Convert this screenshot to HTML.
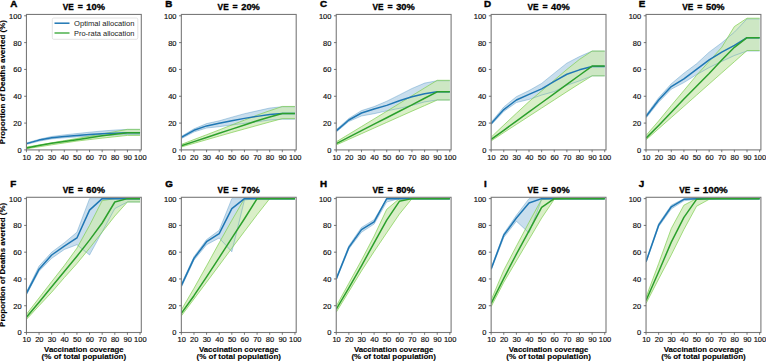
<!DOCTYPE html>
<html><head><meta charset="utf-8"><style>
html,body{margin:0;padding:0;background:#fff;}
svg{display:block;font-family:"Liberation Sans", sans-serif;}
.tk{font-size:7.5px;fill:#111;stroke:#111;stroke-width:0.17px;}
.tt{font-size:8.3px;font-weight:bold;fill:#000;stroke:#000;stroke-width:0.3px;}
.lt{font-size:9.8px;font-weight:bold;fill:#000;stroke:#000;stroke-width:0.45px;}
.lb{font-size:7.6px;font-weight:bold;fill:#000;stroke:#000;stroke-width:0.12px;}
.lg{font-size:7px;fill:#1a1a1a;}
</style></head><body>
<svg width="766" height="361" viewBox="0 0 766 361">
<clipPath id="cA"><rect x="26.45" y="14.45" width="114.85" height="135.45"/></clipPath>
<g clip-path="url(#cA)">
<polygon points="26.45,142.93 39.07,139.31 51.69,136.49 64.31,134.88 76.93,133.54 89.55,132.20 102.18,130.99 114.80,130.05 127.42,129.38 140.04,129.38 140.04,134.48 127.42,134.48 114.80,135.01 102.18,135.68 89.55,136.22 76.93,136.89 64.31,137.83 51.69,138.90 39.07,141.18 26.45,144.40" fill="#1f77b4" fill-opacity="0.24"/>
<polygon points="26.45,147.08 39.07,144.94 51.69,142.79 64.31,140.65 76.93,138.50 89.55,136.22 102.18,133.94 114.80,131.66 127.42,129.38 140.04,129.38 140.04,135.42 127.42,135.42 114.80,136.76 102.18,138.10 89.55,139.57 76.93,141.05 64.31,142.93 51.69,144.80 39.07,146.82 26.45,148.69" fill="rgb(205,233,182)" fill-opacity="0.75"/>
<polyline points="26.45,142.93 39.07,139.31 51.69,136.49 64.31,134.88 76.93,133.54 89.55,132.20 102.18,130.99 114.80,130.05 127.42,129.38 140.04,129.38" fill="none" stroke="#1f77b4" stroke-opacity="0.35" stroke-width="0.9"/>
<polyline points="26.45,144.40 39.07,141.18 51.69,138.90 64.31,137.83 76.93,136.89 89.55,136.22 102.18,135.68 114.80,135.01 127.42,134.48 140.04,134.48" fill="none" stroke="#1f77b4" stroke-opacity="0.35" stroke-width="0.9"/>
<polyline points="26.45,147.08 39.07,144.94 51.69,142.79 64.31,140.65 76.93,138.50 89.55,136.22 102.18,133.94 114.80,131.66 127.42,129.38 140.04,129.38" fill="none" stroke="#7fcf50" stroke-opacity="0.7" stroke-width="1"/>
<polyline points="26.45,148.69 39.07,146.82 51.69,144.80 64.31,142.93 76.93,141.05 89.55,139.57 102.18,138.10 114.80,136.76 127.42,135.42 140.04,135.42" fill="none" stroke="#7fcf50" stroke-opacity="0.7" stroke-width="1"/>
<polyline points="26.45,143.60 39.07,140.11 51.69,137.83 64.31,136.49 76.93,135.55 89.55,134.61 102.18,133.81 114.80,133.27 127.42,132.87 140.04,132.87" fill="none" stroke="#1f77b4" stroke-width="1.5" stroke-linejoin="round"/>
<polyline points="26.45,147.89 39.07,145.47 51.69,143.19 64.31,141.45 76.93,139.71 89.55,137.83 102.18,135.82 114.80,134.21 127.42,132.87 140.04,132.87" fill="none" stroke="#2ca02c" stroke-width="1.5" stroke-linejoin="round"/>
</g>
<rect x="26.45" y="14.45" width="114.85" height="135.45" fill="none" stroke="#7a7a7a" stroke-width="1.1"/>
<line x1="26.45" y1="149.90" x2="26.45" y2="152.20" stroke="#555" stroke-width="0.8"/>
<text class="tk" x="26.75" y="159.70" text-anchor="middle">10</text>
<line x1="39.07" y1="149.90" x2="39.07" y2="152.20" stroke="#555" stroke-width="0.8"/>
<text class="tk" x="39.37" y="159.70" text-anchor="middle">20</text>
<line x1="51.69" y1="149.90" x2="51.69" y2="152.20" stroke="#555" stroke-width="0.8"/>
<text class="tk" x="51.99" y="159.70" text-anchor="middle">30</text>
<line x1="64.31" y1="149.90" x2="64.31" y2="152.20" stroke="#555" stroke-width="0.8"/>
<text class="tk" x="64.61" y="159.70" text-anchor="middle">40</text>
<line x1="76.93" y1="149.90" x2="76.93" y2="152.20" stroke="#555" stroke-width="0.8"/>
<text class="tk" x="77.23" y="159.70" text-anchor="middle">50</text>
<line x1="89.55" y1="149.90" x2="89.55" y2="152.20" stroke="#555" stroke-width="0.8"/>
<text class="tk" x="89.85" y="159.70" text-anchor="middle">60</text>
<line x1="102.18" y1="149.90" x2="102.18" y2="152.20" stroke="#555" stroke-width="0.8"/>
<text class="tk" x="102.48" y="159.70" text-anchor="middle">70</text>
<line x1="114.80" y1="149.90" x2="114.80" y2="152.20" stroke="#555" stroke-width="0.8"/>
<text class="tk" x="115.10" y="159.70" text-anchor="middle">80</text>
<line x1="127.42" y1="149.90" x2="127.42" y2="152.20" stroke="#555" stroke-width="0.8"/>
<text class="tk" x="127.72" y="159.70" text-anchor="middle">90</text>
<line x1="140.04" y1="149.90" x2="140.04" y2="152.20" stroke="#555" stroke-width="0.8"/>
<text class="tk" x="140.34" y="159.70" text-anchor="middle">100</text>
<line x1="24.15" y1="149.90" x2="26.45" y2="149.90" stroke="#555" stroke-width="0.8"/>
<text class="tk" x="21.60" y="152.85" text-anchor="end">0</text>
<line x1="24.15" y1="123.08" x2="26.45" y2="123.08" stroke="#555" stroke-width="0.8"/>
<text class="tk" x="21.60" y="126.03" text-anchor="end">20</text>
<line x1="24.15" y1="96.26" x2="26.45" y2="96.26" stroke="#555" stroke-width="0.8"/>
<text class="tk" x="21.60" y="99.21" text-anchor="end">40</text>
<line x1="24.15" y1="69.43" x2="26.45" y2="69.43" stroke="#555" stroke-width="0.8"/>
<text class="tk" x="21.60" y="72.38" text-anchor="end">60</text>
<line x1="24.15" y1="42.61" x2="26.45" y2="42.61" stroke="#555" stroke-width="0.8"/>
<text class="tk" x="21.60" y="45.56" text-anchor="end">80</text>
<line x1="24.15" y1="15.79" x2="26.45" y2="15.79" stroke="#555" stroke-width="0.8"/>
<text class="tk" x="21.60" y="18.74" text-anchor="end">100</text>
<text class="tt" x="62.73" y="10.15" textLength="11.05" lengthAdjust="spacingAndGlyphs">VE</text>
<text class="tt" x="80.28" y="10.15" text-anchor="middle" textLength="5.1" lengthAdjust="spacingAndGlyphs">=</text>
<text class="tt" x="86.38" y="10.15" textLength="18.60" lengthAdjust="spacingAndGlyphs">10%</text>
<text class="lt" x="10.25" y="6.90">A</text>
<clipPath id="cB"><rect x="181.35" y="14.45" width="114.85" height="135.45"/></clipPath>
<g clip-path="url(#cB)">
<polygon points="181.35,136.36 193.97,128.84 206.59,123.61 219.21,120.80 231.83,117.18 244.45,113.69 257.08,110.87 269.70,108.06 282.32,106.72 294.94,106.72 294.94,119.19 282.32,119.19 269.70,119.99 257.08,121.74 244.45,123.35 231.83,124.96 219.21,126.70 206.59,128.04 193.97,131.93 181.35,138.63" fill="#1f77b4" fill-opacity="0.24"/>
<polygon points="181.35,144.40 193.97,139.57 206.59,134.75 219.21,129.92 231.83,124.96 244.45,120.13 257.08,115.17 269.70,110.74 282.32,106.45 294.94,106.45 294.94,118.65 282.32,118.65 269.70,122.01 257.08,125.49 244.45,128.98 231.83,132.47 219.21,136.09 206.59,139.71 193.97,143.33 181.35,146.95" fill="rgb(205,233,182)" fill-opacity="0.75"/>
<polyline points="181.35,136.36 193.97,128.84 206.59,123.61 219.21,120.80 231.83,117.18 244.45,113.69 257.08,110.87 269.70,108.06 282.32,106.72 294.94,106.72" fill="none" stroke="#1f77b4" stroke-opacity="0.35" stroke-width="0.9"/>
<polyline points="181.35,138.63 193.97,131.93 206.59,128.04 219.21,126.70 231.83,124.96 244.45,123.35 257.08,121.74 269.70,119.99 282.32,119.19 294.94,119.19" fill="none" stroke="#1f77b4" stroke-opacity="0.35" stroke-width="0.9"/>
<polyline points="181.35,144.40 193.97,139.57 206.59,134.75 219.21,129.92 231.83,124.96 244.45,120.13 257.08,115.17 269.70,110.74 282.32,106.45 294.94,106.45" fill="none" stroke="#7fcf50" stroke-opacity="0.7" stroke-width="1"/>
<polyline points="181.35,146.95 193.97,143.33 206.59,139.71 219.21,136.09 231.83,132.47 244.45,128.98 257.08,125.49 269.70,122.01 282.32,118.65 294.94,118.65" fill="none" stroke="#7fcf50" stroke-opacity="0.7" stroke-width="1"/>
<polyline points="181.35,137.43 193.97,130.32 206.59,125.89 219.21,123.35 231.83,120.80 244.45,118.38 257.08,116.37 269.70,114.50 282.32,113.42 294.94,113.42" fill="none" stroke="#1f77b4" stroke-width="1.5" stroke-linejoin="round"/>
<polyline points="181.35,145.74 193.97,141.59 206.59,137.43 219.21,133.27 231.83,129.11 244.45,124.96 257.08,120.80 269.70,117.04 282.32,113.42 294.94,113.42" fill="none" stroke="#2ca02c" stroke-width="1.5" stroke-linejoin="round"/>
</g>
<rect x="181.35" y="14.45" width="114.85" height="135.45" fill="none" stroke="#7a7a7a" stroke-width="1.1"/>
<line x1="181.35" y1="149.90" x2="181.35" y2="152.20" stroke="#555" stroke-width="0.8"/>
<text class="tk" x="181.65" y="159.70" text-anchor="middle">10</text>
<line x1="193.97" y1="149.90" x2="193.97" y2="152.20" stroke="#555" stroke-width="0.8"/>
<text class="tk" x="194.27" y="159.70" text-anchor="middle">20</text>
<line x1="206.59" y1="149.90" x2="206.59" y2="152.20" stroke="#555" stroke-width="0.8"/>
<text class="tk" x="206.89" y="159.70" text-anchor="middle">30</text>
<line x1="219.21" y1="149.90" x2="219.21" y2="152.20" stroke="#555" stroke-width="0.8"/>
<text class="tk" x="219.51" y="159.70" text-anchor="middle">40</text>
<line x1="231.83" y1="149.90" x2="231.83" y2="152.20" stroke="#555" stroke-width="0.8"/>
<text class="tk" x="232.13" y="159.70" text-anchor="middle">50</text>
<line x1="244.45" y1="149.90" x2="244.45" y2="152.20" stroke="#555" stroke-width="0.8"/>
<text class="tk" x="244.75" y="159.70" text-anchor="middle">60</text>
<line x1="257.08" y1="149.90" x2="257.08" y2="152.20" stroke="#555" stroke-width="0.8"/>
<text class="tk" x="257.38" y="159.70" text-anchor="middle">70</text>
<line x1="269.70" y1="149.90" x2="269.70" y2="152.20" stroke="#555" stroke-width="0.8"/>
<text class="tk" x="270.00" y="159.70" text-anchor="middle">80</text>
<line x1="282.32" y1="149.90" x2="282.32" y2="152.20" stroke="#555" stroke-width="0.8"/>
<text class="tk" x="282.62" y="159.70" text-anchor="middle">90</text>
<line x1="294.94" y1="149.90" x2="294.94" y2="152.20" stroke="#555" stroke-width="0.8"/>
<text class="tk" x="295.24" y="159.70" text-anchor="middle">100</text>
<line x1="179.05" y1="149.90" x2="181.35" y2="149.90" stroke="#555" stroke-width="0.8"/>
<text class="tk" x="176.50" y="152.85" text-anchor="end">0</text>
<line x1="179.05" y1="123.08" x2="181.35" y2="123.08" stroke="#555" stroke-width="0.8"/>
<text class="tk" x="176.50" y="126.03" text-anchor="end">20</text>
<line x1="179.05" y1="96.26" x2="181.35" y2="96.26" stroke="#555" stroke-width="0.8"/>
<text class="tk" x="176.50" y="99.21" text-anchor="end">40</text>
<line x1="179.05" y1="69.43" x2="181.35" y2="69.43" stroke="#555" stroke-width="0.8"/>
<text class="tk" x="176.50" y="72.38" text-anchor="end">60</text>
<line x1="179.05" y1="42.61" x2="181.35" y2="42.61" stroke="#555" stroke-width="0.8"/>
<text class="tk" x="176.50" y="45.56" text-anchor="end">80</text>
<line x1="179.05" y1="15.79" x2="181.35" y2="15.79" stroke="#555" stroke-width="0.8"/>
<text class="tk" x="176.50" y="18.74" text-anchor="end">100</text>
<text class="tt" x="217.62" y="10.15" textLength="11.05" lengthAdjust="spacingAndGlyphs">VE</text>
<text class="tt" x="235.17" y="10.15" text-anchor="middle" textLength="5.1" lengthAdjust="spacingAndGlyphs">=</text>
<text class="tt" x="241.27" y="10.15" textLength="18.60" lengthAdjust="spacingAndGlyphs">20%</text>
<text class="lt" x="165.15" y="6.90">B</text>
<clipPath id="cC"><rect x="336.25" y="14.45" width="114.85" height="135.45"/></clipPath>
<g clip-path="url(#cC)">
<polygon points="336.25,129.65 348.87,118.38 361.49,110.61 374.11,106.58 386.73,101.22 399.35,94.92 411.98,88.48 424.60,83.11 437.22,80.70 449.84,80.70 449.84,100.01 437.22,100.01 424.60,101.89 411.98,105.38 399.35,108.33 386.73,110.87 374.11,113.69 361.49,115.97 348.87,121.47 336.25,132.06" fill="#1f77b4" fill-opacity="0.24"/>
<polygon points="336.25,141.85 348.87,134.21 361.49,126.57 374.11,118.92 386.73,111.28 399.35,103.50 411.98,95.72 424.60,87.94 437.22,80.30 449.84,80.30 449.84,100.01 437.22,100.01 424.60,105.64 411.98,111.14 399.35,116.78 386.73,122.41 374.11,128.04 361.49,133.67 348.87,139.31 336.25,144.94" fill="rgb(205,233,182)" fill-opacity="0.75"/>
<polyline points="336.25,129.65 348.87,118.38 361.49,110.61 374.11,106.58 386.73,101.22 399.35,94.92 411.98,88.48 424.60,83.11 437.22,80.70 449.84,80.70" fill="none" stroke="#1f77b4" stroke-opacity="0.35" stroke-width="0.9"/>
<polyline points="336.25,132.06 348.87,121.47 361.49,115.97 374.11,113.69 386.73,110.87 399.35,108.33 411.98,105.38 424.60,101.89 437.22,100.01 449.84,100.01" fill="none" stroke="#1f77b4" stroke-opacity="0.35" stroke-width="0.9"/>
<polyline points="336.25,141.85 348.87,134.21 361.49,126.57 374.11,118.92 386.73,111.28 399.35,103.50 411.98,95.72 424.60,87.94 437.22,80.30 449.84,80.30" fill="none" stroke="#7fcf50" stroke-opacity="0.7" stroke-width="1"/>
<polyline points="336.25,144.94 348.87,139.31 361.49,133.67 374.11,128.04 386.73,122.41 399.35,116.78 411.98,111.14 424.60,105.64 437.22,100.01 449.84,100.01" fill="none" stroke="#7fcf50" stroke-opacity="0.7" stroke-width="1"/>
<polyline points="336.25,130.86 348.87,119.99 361.49,113.02 374.11,109.00 386.73,105.38 399.35,100.68 411.98,96.79 424.60,93.71 437.22,91.83 449.84,91.83" fill="none" stroke="#1f77b4" stroke-width="1.5" stroke-linejoin="round"/>
<polyline points="336.25,143.60 348.87,137.16 361.49,130.59 374.11,124.15 386.73,117.71 399.35,111.28 411.98,104.84 424.60,98.27 437.22,91.83 449.84,91.83" fill="none" stroke="#2ca02c" stroke-width="1.5" stroke-linejoin="round"/>
</g>
<rect x="336.25" y="14.45" width="114.85" height="135.45" fill="none" stroke="#7a7a7a" stroke-width="1.1"/>
<line x1="336.25" y1="149.90" x2="336.25" y2="152.20" stroke="#555" stroke-width="0.8"/>
<text class="tk" x="336.55" y="159.70" text-anchor="middle">10</text>
<line x1="348.87" y1="149.90" x2="348.87" y2="152.20" stroke="#555" stroke-width="0.8"/>
<text class="tk" x="349.17" y="159.70" text-anchor="middle">20</text>
<line x1="361.49" y1="149.90" x2="361.49" y2="152.20" stroke="#555" stroke-width="0.8"/>
<text class="tk" x="361.79" y="159.70" text-anchor="middle">30</text>
<line x1="374.11" y1="149.90" x2="374.11" y2="152.20" stroke="#555" stroke-width="0.8"/>
<text class="tk" x="374.41" y="159.70" text-anchor="middle">40</text>
<line x1="386.73" y1="149.90" x2="386.73" y2="152.20" stroke="#555" stroke-width="0.8"/>
<text class="tk" x="387.03" y="159.70" text-anchor="middle">50</text>
<line x1="399.35" y1="149.90" x2="399.35" y2="152.20" stroke="#555" stroke-width="0.8"/>
<text class="tk" x="399.65" y="159.70" text-anchor="middle">60</text>
<line x1="411.98" y1="149.90" x2="411.98" y2="152.20" stroke="#555" stroke-width="0.8"/>
<text class="tk" x="412.28" y="159.70" text-anchor="middle">70</text>
<line x1="424.60" y1="149.90" x2="424.60" y2="152.20" stroke="#555" stroke-width="0.8"/>
<text class="tk" x="424.90" y="159.70" text-anchor="middle">80</text>
<line x1="437.22" y1="149.90" x2="437.22" y2="152.20" stroke="#555" stroke-width="0.8"/>
<text class="tk" x="437.52" y="159.70" text-anchor="middle">90</text>
<line x1="449.84" y1="149.90" x2="449.84" y2="152.20" stroke="#555" stroke-width="0.8"/>
<text class="tk" x="450.14" y="159.70" text-anchor="middle">100</text>
<line x1="333.95" y1="149.90" x2="336.25" y2="149.90" stroke="#555" stroke-width="0.8"/>
<text class="tk" x="331.40" y="152.85" text-anchor="end">0</text>
<line x1="333.95" y1="123.08" x2="336.25" y2="123.08" stroke="#555" stroke-width="0.8"/>
<text class="tk" x="331.40" y="126.03" text-anchor="end">20</text>
<line x1="333.95" y1="96.26" x2="336.25" y2="96.26" stroke="#555" stroke-width="0.8"/>
<text class="tk" x="331.40" y="99.21" text-anchor="end">40</text>
<line x1="333.95" y1="69.43" x2="336.25" y2="69.43" stroke="#555" stroke-width="0.8"/>
<text class="tk" x="331.40" y="72.38" text-anchor="end">60</text>
<line x1="333.95" y1="42.61" x2="336.25" y2="42.61" stroke="#555" stroke-width="0.8"/>
<text class="tk" x="331.40" y="45.56" text-anchor="end">80</text>
<line x1="333.95" y1="15.79" x2="336.25" y2="15.79" stroke="#555" stroke-width="0.8"/>
<text class="tk" x="331.40" y="18.74" text-anchor="end">100</text>
<text class="tt" x="372.52" y="10.15" textLength="11.05" lengthAdjust="spacingAndGlyphs">VE</text>
<text class="tt" x="390.07" y="10.15" text-anchor="middle" textLength="5.1" lengthAdjust="spacingAndGlyphs">=</text>
<text class="tt" x="396.18" y="10.15" textLength="18.60" lengthAdjust="spacingAndGlyphs">30%</text>
<text class="lt" x="320.05" y="6.90">C</text>
<clipPath id="cD"><rect x="491.15" y="14.45" width="114.85" height="135.45"/></clipPath>
<g clip-path="url(#cD)">
<polygon points="491.15,122.14 503.77,106.99 516.39,96.66 529.01,90.62 541.63,83.38 554.25,73.19 566.88,63.13 579.50,56.56 592.12,51.06 604.74,51.06 604.74,75.87 592.12,75.87 579.50,80.83 566.88,85.26 554.25,91.56 541.63,95.05 529.01,99.48 516.39,102.56 503.77,111.41 491.15,124.96" fill="#1f77b4" fill-opacity="0.24"/>
<polygon points="491.15,137.16 503.77,125.09 516.39,113.29 529.01,101.62 541.63,90.89 554.25,80.16 566.88,69.43 579.50,59.38 592.12,51.06 604.74,51.06 604.74,75.87 592.12,75.87 579.50,83.65 566.88,91.70 554.25,99.88 541.63,108.06 529.01,116.24 516.39,124.42 503.77,132.60 491.15,140.91" fill="rgb(205,233,182)" fill-opacity="0.75"/>
<polyline points="491.15,122.14 503.77,106.99 516.39,96.66 529.01,90.62 541.63,83.38 554.25,73.19 566.88,63.13 579.50,56.56 592.12,51.06 604.74,51.06" fill="none" stroke="#1f77b4" stroke-opacity="0.35" stroke-width="0.9"/>
<polyline points="491.15,124.96 503.77,111.41 516.39,102.56 529.01,99.48 541.63,95.05 554.25,91.56 566.88,85.26 579.50,80.83 592.12,75.87 604.74,75.87" fill="none" stroke="#1f77b4" stroke-opacity="0.35" stroke-width="0.9"/>
<polyline points="491.15,137.16 503.77,125.09 516.39,113.29 529.01,101.62 541.63,90.89 554.25,80.16 566.88,69.43 579.50,59.38 592.12,51.06 604.74,51.06" fill="none" stroke="#7fcf50" stroke-opacity="0.7" stroke-width="1"/>
<polyline points="491.15,140.91 503.77,132.60 516.39,124.42 529.01,116.24 541.63,108.06 554.25,99.88 566.88,91.70 579.50,83.65 592.12,75.87 604.74,75.87" fill="none" stroke="#7fcf50" stroke-opacity="0.7" stroke-width="1"/>
<polyline points="491.15,123.61 503.77,109.53 516.39,100.01 529.01,94.38 541.63,88.88 554.25,81.37 566.88,74.26 579.50,69.84 592.12,66.48 604.74,66.48" fill="none" stroke="#1f77b4" stroke-width="1.5" stroke-linejoin="round"/>
<polyline points="491.15,139.44 503.77,130.27 516.39,121.10 529.01,111.93 541.63,102.76 554.25,93.59 566.88,84.42 579.50,75.25 592.12,66.08 604.74,66.08" fill="none" stroke="#2ca02c" stroke-width="1.5" stroke-linejoin="round"/>
</g>
<rect x="491.15" y="14.45" width="114.85" height="135.45" fill="none" stroke="#7a7a7a" stroke-width="1.1"/>
<line x1="491.15" y1="149.90" x2="491.15" y2="152.20" stroke="#555" stroke-width="0.8"/>
<text class="tk" x="491.45" y="159.70" text-anchor="middle">10</text>
<line x1="503.77" y1="149.90" x2="503.77" y2="152.20" stroke="#555" stroke-width="0.8"/>
<text class="tk" x="504.07" y="159.70" text-anchor="middle">20</text>
<line x1="516.39" y1="149.90" x2="516.39" y2="152.20" stroke="#555" stroke-width="0.8"/>
<text class="tk" x="516.69" y="159.70" text-anchor="middle">30</text>
<line x1="529.01" y1="149.90" x2="529.01" y2="152.20" stroke="#555" stroke-width="0.8"/>
<text class="tk" x="529.31" y="159.70" text-anchor="middle">40</text>
<line x1="541.63" y1="149.90" x2="541.63" y2="152.20" stroke="#555" stroke-width="0.8"/>
<text class="tk" x="541.93" y="159.70" text-anchor="middle">50</text>
<line x1="554.25" y1="149.90" x2="554.25" y2="152.20" stroke="#555" stroke-width="0.8"/>
<text class="tk" x="554.55" y="159.70" text-anchor="middle">60</text>
<line x1="566.88" y1="149.90" x2="566.88" y2="152.20" stroke="#555" stroke-width="0.8"/>
<text class="tk" x="567.18" y="159.70" text-anchor="middle">70</text>
<line x1="579.50" y1="149.90" x2="579.50" y2="152.20" stroke="#555" stroke-width="0.8"/>
<text class="tk" x="579.80" y="159.70" text-anchor="middle">80</text>
<line x1="592.12" y1="149.90" x2="592.12" y2="152.20" stroke="#555" stroke-width="0.8"/>
<text class="tk" x="592.42" y="159.70" text-anchor="middle">90</text>
<line x1="604.74" y1="149.90" x2="604.74" y2="152.20" stroke="#555" stroke-width="0.8"/>
<text class="tk" x="605.04" y="159.70" text-anchor="middle">100</text>
<line x1="488.85" y1="149.90" x2="491.15" y2="149.90" stroke="#555" stroke-width="0.8"/>
<text class="tk" x="486.30" y="152.85" text-anchor="end">0</text>
<line x1="488.85" y1="123.08" x2="491.15" y2="123.08" stroke="#555" stroke-width="0.8"/>
<text class="tk" x="486.30" y="126.03" text-anchor="end">20</text>
<line x1="488.85" y1="96.26" x2="491.15" y2="96.26" stroke="#555" stroke-width="0.8"/>
<text class="tk" x="486.30" y="99.21" text-anchor="end">40</text>
<line x1="488.85" y1="69.43" x2="491.15" y2="69.43" stroke="#555" stroke-width="0.8"/>
<text class="tk" x="486.30" y="72.38" text-anchor="end">60</text>
<line x1="488.85" y1="42.61" x2="491.15" y2="42.61" stroke="#555" stroke-width="0.8"/>
<text class="tk" x="486.30" y="45.56" text-anchor="end">80</text>
<line x1="488.85" y1="15.79" x2="491.15" y2="15.79" stroke="#555" stroke-width="0.8"/>
<text class="tk" x="486.30" y="18.74" text-anchor="end">100</text>
<text class="tt" x="527.43" y="10.15" textLength="11.05" lengthAdjust="spacingAndGlyphs">VE</text>
<text class="tt" x="544.98" y="10.15" text-anchor="middle" textLength="5.1" lengthAdjust="spacingAndGlyphs">=</text>
<text class="tt" x="551.08" y="10.15" textLength="18.60" lengthAdjust="spacingAndGlyphs">40%</text>
<text class="lt" x="483.95" y="6.90">D</text>
<clipPath id="cE"><rect x="646.05" y="14.45" width="114.85" height="135.45"/></clipPath>
<g clip-path="url(#cE)">
<polygon points="646.05,115.03 658.67,97.73 671.29,83.78 683.91,73.19 696.53,63.80 709.15,52.13 721.78,42.75 734.40,32.15 747.02,18.88 759.64,18.88 759.64,51.06 747.02,51.06 734.40,55.49 721.78,61.39 709.15,67.56 696.53,74.66 683.91,82.58 671.29,89.15 658.67,102.16 646.05,118.12" fill="#1f77b4" fill-opacity="0.24"/>
<polygon points="646.05,135.42 658.67,120.93 671.29,105.51 683.91,90.49 696.53,75.34 709.15,61.39 721.78,47.31 734.40,26.52 747.02,18.21 759.64,18.21 759.64,50.53 747.02,50.53 734.40,61.69 721.78,72.85 709.15,84.02 696.53,95.18 683.91,106.35 671.29,117.51 658.67,128.68 646.05,139.84" fill="rgb(205,233,182)" fill-opacity="0.75"/>
<polyline points="646.05,115.03 658.67,97.73 671.29,83.78 683.91,73.19 696.53,63.80 709.15,52.13 721.78,42.75 734.40,32.15 747.02,18.88 759.64,18.88" fill="none" stroke="#1f77b4" stroke-opacity="0.35" stroke-width="0.9"/>
<polyline points="646.05,118.12 658.67,102.16 671.29,89.15 683.91,82.58 696.53,74.66 709.15,67.56 721.78,61.39 734.40,55.49 747.02,51.06 759.64,51.06" fill="none" stroke="#1f77b4" stroke-opacity="0.35" stroke-width="0.9"/>
<polyline points="646.05,135.42 658.67,120.93 671.29,105.51 683.91,90.49 696.53,75.34 709.15,61.39 721.78,47.31 734.40,26.52 747.02,18.21 759.64,18.21" fill="none" stroke="#7fcf50" stroke-opacity="0.7" stroke-width="1"/>
<polyline points="646.05,139.84 658.67,128.68 671.29,117.51 683.91,106.35 696.53,95.18 709.15,84.02 721.78,72.85 734.40,61.69 747.02,50.53 759.64,50.53" fill="none" stroke="#7fcf50" stroke-opacity="0.7" stroke-width="1"/>
<polyline points="646.05,116.51 658.67,100.01 671.29,86.60 683.91,78.82 696.53,69.43 709.15,59.91 721.78,52.13 734.40,45.43 747.02,37.65 759.64,37.65" fill="none" stroke="#1f77b4" stroke-width="1.5" stroke-linejoin="round"/>
<polyline points="646.05,138.10 658.67,125.49 671.29,112.35 683.91,98.94 696.53,86.20 709.15,73.46 721.78,60.05 734.40,47.31 747.02,37.65 759.64,37.65" fill="none" stroke="#2ca02c" stroke-width="1.5" stroke-linejoin="round"/>
</g>
<rect x="646.05" y="14.45" width="114.85" height="135.45" fill="none" stroke="#7a7a7a" stroke-width="1.1"/>
<line x1="646.05" y1="149.90" x2="646.05" y2="152.20" stroke="#555" stroke-width="0.8"/>
<text class="tk" x="646.35" y="159.70" text-anchor="middle">10</text>
<line x1="658.67" y1="149.90" x2="658.67" y2="152.20" stroke="#555" stroke-width="0.8"/>
<text class="tk" x="658.97" y="159.70" text-anchor="middle">20</text>
<line x1="671.29" y1="149.90" x2="671.29" y2="152.20" stroke="#555" stroke-width="0.8"/>
<text class="tk" x="671.59" y="159.70" text-anchor="middle">30</text>
<line x1="683.91" y1="149.90" x2="683.91" y2="152.20" stroke="#555" stroke-width="0.8"/>
<text class="tk" x="684.21" y="159.70" text-anchor="middle">40</text>
<line x1="696.53" y1="149.90" x2="696.53" y2="152.20" stroke="#555" stroke-width="0.8"/>
<text class="tk" x="696.83" y="159.70" text-anchor="middle">50</text>
<line x1="709.15" y1="149.90" x2="709.15" y2="152.20" stroke="#555" stroke-width="0.8"/>
<text class="tk" x="709.45" y="159.70" text-anchor="middle">60</text>
<line x1="721.78" y1="149.90" x2="721.78" y2="152.20" stroke="#555" stroke-width="0.8"/>
<text class="tk" x="722.08" y="159.70" text-anchor="middle">70</text>
<line x1="734.40" y1="149.90" x2="734.40" y2="152.20" stroke="#555" stroke-width="0.8"/>
<text class="tk" x="734.70" y="159.70" text-anchor="middle">80</text>
<line x1="747.02" y1="149.90" x2="747.02" y2="152.20" stroke="#555" stroke-width="0.8"/>
<text class="tk" x="747.32" y="159.70" text-anchor="middle">90</text>
<line x1="759.64" y1="149.90" x2="759.64" y2="152.20" stroke="#555" stroke-width="0.8"/>
<text class="tk" x="759.94" y="159.70" text-anchor="middle">100</text>
<line x1="643.75" y1="149.90" x2="646.05" y2="149.90" stroke="#555" stroke-width="0.8"/>
<text class="tk" x="641.20" y="152.85" text-anchor="end">0</text>
<line x1="643.75" y1="123.08" x2="646.05" y2="123.08" stroke="#555" stroke-width="0.8"/>
<text class="tk" x="641.20" y="126.03" text-anchor="end">20</text>
<line x1="643.75" y1="96.26" x2="646.05" y2="96.26" stroke="#555" stroke-width="0.8"/>
<text class="tk" x="641.20" y="99.21" text-anchor="end">40</text>
<line x1="643.75" y1="69.43" x2="646.05" y2="69.43" stroke="#555" stroke-width="0.8"/>
<text class="tk" x="641.20" y="72.38" text-anchor="end">60</text>
<line x1="643.75" y1="42.61" x2="646.05" y2="42.61" stroke="#555" stroke-width="0.8"/>
<text class="tk" x="641.20" y="45.56" text-anchor="end">80</text>
<line x1="643.75" y1="15.79" x2="646.05" y2="15.79" stroke="#555" stroke-width="0.8"/>
<text class="tk" x="641.20" y="18.74" text-anchor="end">100</text>
<text class="tt" x="682.33" y="10.15" textLength="11.05" lengthAdjust="spacingAndGlyphs">VE</text>
<text class="tt" x="699.88" y="10.15" text-anchor="middle" textLength="5.1" lengthAdjust="spacingAndGlyphs">=</text>
<text class="tt" x="705.98" y="10.15" textLength="18.60" lengthAdjust="spacingAndGlyphs">50%</text>
<text class="lt" x="638.85" y="6.90">E</text>
<clipPath id="cF"><rect x="26.45" y="197.30" width="114.85" height="135.20"/></clipPath>
<g clip-path="url(#cF)">
<polygon points="26.45,291.81 39.07,266.10 51.69,252.18 64.31,242.81 76.93,232.24 89.55,198.64 102.18,198.64 114.80,198.64 127.42,198.64 140.04,198.64 140.04,201.99 127.42,201.99 114.80,208.54 102.18,231.84 89.55,254.99 76.93,244.69 64.31,249.51 51.69,258.34 39.07,271.19 26.45,294.88" fill="#1f77b4" fill-opacity="0.24"/>
<polygon points="26.45,314.29 39.07,297.96 51.69,281.63 64.31,265.57 76.93,248.17 89.55,225.41 102.18,200.65 114.80,198.64 127.42,198.64 140.04,198.64 140.04,201.99 127.42,201.99 114.80,216.04 102.18,232.10 89.55,248.17 76.93,263.56 64.31,277.62 51.69,292.21 39.07,305.73 26.45,319.38" fill="rgb(205,233,182)" fill-opacity="0.75"/>
<polyline points="26.45,291.81 39.07,266.10 51.69,252.18 64.31,242.81 76.93,232.24 89.55,198.64 102.18,198.64 114.80,198.64 127.42,198.64 140.04,198.64" fill="none" stroke="#1f77b4" stroke-opacity="0.35" stroke-width="0.9"/>
<polyline points="26.45,294.88 39.07,271.19 51.69,258.34 64.31,249.51 76.93,244.69 89.55,254.99 102.18,231.84 114.80,208.54 127.42,201.99 140.04,201.99" fill="none" stroke="#1f77b4" stroke-opacity="0.35" stroke-width="0.9"/>
<polyline points="26.45,314.29 39.07,297.96 51.69,281.63 64.31,265.57 76.93,248.17 89.55,225.41 102.18,200.65 114.80,198.64 127.42,198.64 140.04,198.64" fill="none" stroke="#7fcf50" stroke-opacity="0.7" stroke-width="1"/>
<polyline points="26.45,319.38 39.07,305.73 51.69,292.21 64.31,277.62 76.93,263.56 89.55,248.17 102.18,232.10 114.80,216.04 127.42,201.99 140.04,201.99" fill="none" stroke="#7fcf50" stroke-opacity="0.7" stroke-width="1"/>
<polyline points="26.45,293.28 39.07,269.18 51.69,254.99 64.31,246.16 76.93,237.99 89.55,210.15 102.18,198.64 114.80,198.64 127.42,198.64 140.04,198.64" fill="none" stroke="#1f77b4" stroke-width="1.5" stroke-linejoin="round"/>
<polyline points="26.45,317.24 39.07,302.25 51.69,286.72 64.31,271.59 76.93,256.20 89.55,240.14 102.18,223.00 114.80,201.99 127.42,198.64 140.04,198.64" fill="none" stroke="#2ca02c" stroke-width="1.5" stroke-linejoin="round"/>
</g>
<rect x="26.45" y="197.30" width="114.85" height="135.20" fill="none" stroke="#7a7a7a" stroke-width="1.1"/>
<line x1="26.45" y1="332.50" x2="26.45" y2="334.80" stroke="#555" stroke-width="0.8"/>
<text class="tk" x="26.75" y="342.30" text-anchor="middle">10</text>
<line x1="39.07" y1="332.50" x2="39.07" y2="334.80" stroke="#555" stroke-width="0.8"/>
<text class="tk" x="39.37" y="342.30" text-anchor="middle">20</text>
<line x1="51.69" y1="332.50" x2="51.69" y2="334.80" stroke="#555" stroke-width="0.8"/>
<text class="tk" x="51.99" y="342.30" text-anchor="middle">30</text>
<line x1="64.31" y1="332.50" x2="64.31" y2="334.80" stroke="#555" stroke-width="0.8"/>
<text class="tk" x="64.61" y="342.30" text-anchor="middle">40</text>
<line x1="76.93" y1="332.50" x2="76.93" y2="334.80" stroke="#555" stroke-width="0.8"/>
<text class="tk" x="77.23" y="342.30" text-anchor="middle">50</text>
<line x1="89.55" y1="332.50" x2="89.55" y2="334.80" stroke="#555" stroke-width="0.8"/>
<text class="tk" x="89.85" y="342.30" text-anchor="middle">60</text>
<line x1="102.18" y1="332.50" x2="102.18" y2="334.80" stroke="#555" stroke-width="0.8"/>
<text class="tk" x="102.48" y="342.30" text-anchor="middle">70</text>
<line x1="114.80" y1="332.50" x2="114.80" y2="334.80" stroke="#555" stroke-width="0.8"/>
<text class="tk" x="115.10" y="342.30" text-anchor="middle">80</text>
<line x1="127.42" y1="332.50" x2="127.42" y2="334.80" stroke="#555" stroke-width="0.8"/>
<text class="tk" x="127.72" y="342.30" text-anchor="middle">90</text>
<line x1="140.04" y1="332.50" x2="140.04" y2="334.80" stroke="#555" stroke-width="0.8"/>
<text class="tk" x="140.34" y="342.30" text-anchor="middle">100</text>
<line x1="24.15" y1="332.50" x2="26.45" y2="332.50" stroke="#555" stroke-width="0.8"/>
<text class="tk" x="21.60" y="335.45" text-anchor="end">0</text>
<line x1="24.15" y1="305.73" x2="26.45" y2="305.73" stroke="#555" stroke-width="0.8"/>
<text class="tk" x="21.60" y="308.68" text-anchor="end">20</text>
<line x1="24.15" y1="278.96" x2="26.45" y2="278.96" stroke="#555" stroke-width="0.8"/>
<text class="tk" x="21.60" y="281.91" text-anchor="end">40</text>
<line x1="24.15" y1="252.18" x2="26.45" y2="252.18" stroke="#555" stroke-width="0.8"/>
<text class="tk" x="21.60" y="255.13" text-anchor="end">60</text>
<line x1="24.15" y1="225.41" x2="26.45" y2="225.41" stroke="#555" stroke-width="0.8"/>
<text class="tk" x="21.60" y="228.36" text-anchor="end">80</text>
<line x1="24.15" y1="198.64" x2="26.45" y2="198.64" stroke="#555" stroke-width="0.8"/>
<text class="tk" x="21.60" y="201.59" text-anchor="end">100</text>
<text class="tt" x="62.73" y="193.00" textLength="11.05" lengthAdjust="spacingAndGlyphs">VE</text>
<text class="tt" x="80.28" y="193.00" text-anchor="middle" textLength="5.1" lengthAdjust="spacingAndGlyphs">=</text>
<text class="tt" x="86.38" y="193.00" textLength="18.60" lengthAdjust="spacingAndGlyphs">60%</text>
<text class="lt" x="10.25" y="187.10">F</text>
<clipPath id="cG"><rect x="181.35" y="197.30" width="114.85" height="135.20"/></clipPath>
<g clip-path="url(#cG)">
<polygon points="181.35,284.04 193.97,256.60 206.59,239.60 219.21,230.23 231.83,198.64 244.45,198.64 257.08,198.64 269.70,198.64 282.32,198.64 294.94,198.64 294.94,198.64 282.32,198.64 269.70,198.64 257.08,198.64 244.45,199.98 231.83,251.78 219.21,237.99 206.59,244.69 193.97,260.21 181.35,287.25" fill="#1f77b4" fill-opacity="0.24"/>
<polygon points="181.35,309.88 193.97,288.33 206.59,265.84 219.21,242.81 231.83,220.32 244.45,198.64 257.08,198.64 269.70,198.64 282.32,198.64 294.94,198.64 294.94,198.64 282.32,198.64 269.70,198.64 257.08,214.70 244.45,231.43 231.83,248.17 219.21,265.30 206.59,282.17 193.97,299.03 181.35,315.90" fill="rgb(205,233,182)" fill-opacity="0.75"/>
<polyline points="181.35,284.04 193.97,256.60 206.59,239.60 219.21,230.23 231.83,198.64 244.45,198.64 257.08,198.64 269.70,198.64 282.32,198.64 294.94,198.64" fill="none" stroke="#1f77b4" stroke-opacity="0.35" stroke-width="0.9"/>
<polyline points="181.35,287.25 193.97,260.21 206.59,244.69 219.21,237.99 231.83,251.78 244.45,199.98 257.08,198.64 269.70,198.64 282.32,198.64 294.94,198.64" fill="none" stroke="#1f77b4" stroke-opacity="0.35" stroke-width="0.9"/>
<polyline points="181.35,309.88 193.97,288.33 206.59,265.84 219.21,242.81 231.83,220.32 244.45,198.64 257.08,198.64 269.70,198.64 282.32,198.64 294.94,198.64" fill="none" stroke="#7fcf50" stroke-opacity="0.7" stroke-width="1"/>
<polyline points="181.35,315.90 193.97,299.03 206.59,282.17 219.21,265.30 231.83,248.17 244.45,231.43 257.08,214.70 269.70,198.64 282.32,198.64 294.94,198.64" fill="none" stroke="#7fcf50" stroke-opacity="0.7" stroke-width="1"/>
<polyline points="181.35,285.65 193.97,258.34 206.59,241.74 219.21,233.58 231.83,208.54 244.45,198.64 257.08,198.64 269.70,198.64 282.32,198.64 294.94,198.64" fill="none" stroke="#1f77b4" stroke-width="1.5" stroke-linejoin="round"/>
<polyline points="181.35,313.22 193.97,295.69 206.59,276.95 219.21,257.54 231.83,238.13 244.45,218.72 257.08,198.64 269.70,198.64 282.32,198.64 294.94,198.64" fill="none" stroke="#2ca02c" stroke-width="1.5" stroke-linejoin="round"/>
</g>
<rect x="181.35" y="197.30" width="114.85" height="135.20" fill="none" stroke="#7a7a7a" stroke-width="1.1"/>
<line x1="181.35" y1="332.50" x2="181.35" y2="334.80" stroke="#555" stroke-width="0.8"/>
<text class="tk" x="181.65" y="342.30" text-anchor="middle">10</text>
<line x1="193.97" y1="332.50" x2="193.97" y2="334.80" stroke="#555" stroke-width="0.8"/>
<text class="tk" x="194.27" y="342.30" text-anchor="middle">20</text>
<line x1="206.59" y1="332.50" x2="206.59" y2="334.80" stroke="#555" stroke-width="0.8"/>
<text class="tk" x="206.89" y="342.30" text-anchor="middle">30</text>
<line x1="219.21" y1="332.50" x2="219.21" y2="334.80" stroke="#555" stroke-width="0.8"/>
<text class="tk" x="219.51" y="342.30" text-anchor="middle">40</text>
<line x1="231.83" y1="332.50" x2="231.83" y2="334.80" stroke="#555" stroke-width="0.8"/>
<text class="tk" x="232.13" y="342.30" text-anchor="middle">50</text>
<line x1="244.45" y1="332.50" x2="244.45" y2="334.80" stroke="#555" stroke-width="0.8"/>
<text class="tk" x="244.75" y="342.30" text-anchor="middle">60</text>
<line x1="257.08" y1="332.50" x2="257.08" y2="334.80" stroke="#555" stroke-width="0.8"/>
<text class="tk" x="257.38" y="342.30" text-anchor="middle">70</text>
<line x1="269.70" y1="332.50" x2="269.70" y2="334.80" stroke="#555" stroke-width="0.8"/>
<text class="tk" x="270.00" y="342.30" text-anchor="middle">80</text>
<line x1="282.32" y1="332.50" x2="282.32" y2="334.80" stroke="#555" stroke-width="0.8"/>
<text class="tk" x="282.62" y="342.30" text-anchor="middle">90</text>
<line x1="294.94" y1="332.50" x2="294.94" y2="334.80" stroke="#555" stroke-width="0.8"/>
<text class="tk" x="295.24" y="342.30" text-anchor="middle">100</text>
<line x1="179.05" y1="332.50" x2="181.35" y2="332.50" stroke="#555" stroke-width="0.8"/>
<text class="tk" x="176.50" y="335.45" text-anchor="end">0</text>
<line x1="179.05" y1="305.73" x2="181.35" y2="305.73" stroke="#555" stroke-width="0.8"/>
<text class="tk" x="176.50" y="308.68" text-anchor="end">20</text>
<line x1="179.05" y1="278.96" x2="181.35" y2="278.96" stroke="#555" stroke-width="0.8"/>
<text class="tk" x="176.50" y="281.91" text-anchor="end">40</text>
<line x1="179.05" y1="252.18" x2="181.35" y2="252.18" stroke="#555" stroke-width="0.8"/>
<text class="tk" x="176.50" y="255.13" text-anchor="end">60</text>
<line x1="179.05" y1="225.41" x2="181.35" y2="225.41" stroke="#555" stroke-width="0.8"/>
<text class="tk" x="176.50" y="228.36" text-anchor="end">80</text>
<line x1="179.05" y1="198.64" x2="181.35" y2="198.64" stroke="#555" stroke-width="0.8"/>
<text class="tk" x="176.50" y="201.59" text-anchor="end">100</text>
<text class="tt" x="217.62" y="193.00" textLength="11.05" lengthAdjust="spacingAndGlyphs">VE</text>
<text class="tt" x="235.17" y="193.00" text-anchor="middle" textLength="5.1" lengthAdjust="spacingAndGlyphs">=</text>
<text class="tt" x="241.27" y="193.00" textLength="18.60" lengthAdjust="spacingAndGlyphs">70%</text>
<text class="lt" x="165.15" y="187.10">G</text>
<clipPath id="cH"><rect x="336.25" y="197.30" width="114.85" height="135.20"/></clipPath>
<g clip-path="url(#cH)">
<polygon points="336.25,277.88 348.87,245.76 361.49,227.42 374.11,219.65 386.73,198.64 399.35,198.64 411.98,198.64 424.60,198.64 437.22,198.64 449.84,198.64 449.84,198.64 437.22,198.64 424.60,198.64 411.98,198.64 399.35,198.64 386.73,201.99 374.11,224.07 361.49,232.24 348.87,248.97 336.25,280.03" fill="#1f77b4" fill-opacity="0.24"/>
<polygon points="336.25,306.13 348.87,283.24 361.49,260.21 374.11,236.12 386.73,209.35 399.35,198.64 411.98,198.64 424.60,198.64 437.22,198.64 449.84,198.64 449.84,198.64 437.22,198.64 424.60,198.64 411.98,198.64 399.35,214.17 386.73,232.77 374.11,251.51 361.49,270.92 348.87,291.54 336.25,312.15" fill="rgb(205,233,182)" fill-opacity="0.75"/>
<polyline points="336.25,277.88 348.87,245.76 361.49,227.42 374.11,219.65 386.73,198.64 399.35,198.64 411.98,198.64 424.60,198.64 437.22,198.64 449.84,198.64" fill="none" stroke="#1f77b4" stroke-opacity="0.35" stroke-width="0.9"/>
<polyline points="336.25,280.03 348.87,248.97 361.49,232.24 374.11,224.07 386.73,201.99 399.35,198.64 411.98,198.64 424.60,198.64 437.22,198.64 449.84,198.64" fill="none" stroke="#1f77b4" stroke-opacity="0.35" stroke-width="0.9"/>
<polyline points="336.25,306.13 348.87,283.24 361.49,260.21 374.11,236.12 386.73,209.35 399.35,198.64 411.98,198.64 424.60,198.64 437.22,198.64 449.84,198.64" fill="none" stroke="#7fcf50" stroke-opacity="0.7" stroke-width="1"/>
<polyline points="336.25,312.15 348.87,291.54 361.49,270.92 374.11,251.51 386.73,232.77 399.35,214.17 411.98,198.64 424.60,198.64 437.22,198.64 449.84,198.64" fill="none" stroke="#7fcf50" stroke-opacity="0.7" stroke-width="1"/>
<polyline points="336.25,278.96 348.87,247.36 361.49,229.56 374.11,221.93 386.73,198.64 399.35,198.64 411.98,198.64 424.60,198.64 437.22,198.64 449.84,198.64" fill="none" stroke="#1f77b4" stroke-width="1.5" stroke-linejoin="round"/>
<polyline points="336.25,309.21 348.87,287.92 361.49,265.84 374.11,242.81 386.73,220.06 399.35,201.32 411.98,198.64 424.60,198.64 437.22,198.64 449.84,198.64" fill="none" stroke="#2ca02c" stroke-width="1.5" stroke-linejoin="round"/>
</g>
<rect x="336.25" y="197.30" width="114.85" height="135.20" fill="none" stroke="#7a7a7a" stroke-width="1.1"/>
<line x1="336.25" y1="332.50" x2="336.25" y2="334.80" stroke="#555" stroke-width="0.8"/>
<text class="tk" x="336.55" y="342.30" text-anchor="middle">10</text>
<line x1="348.87" y1="332.50" x2="348.87" y2="334.80" stroke="#555" stroke-width="0.8"/>
<text class="tk" x="349.17" y="342.30" text-anchor="middle">20</text>
<line x1="361.49" y1="332.50" x2="361.49" y2="334.80" stroke="#555" stroke-width="0.8"/>
<text class="tk" x="361.79" y="342.30" text-anchor="middle">30</text>
<line x1="374.11" y1="332.50" x2="374.11" y2="334.80" stroke="#555" stroke-width="0.8"/>
<text class="tk" x="374.41" y="342.30" text-anchor="middle">40</text>
<line x1="386.73" y1="332.50" x2="386.73" y2="334.80" stroke="#555" stroke-width="0.8"/>
<text class="tk" x="387.03" y="342.30" text-anchor="middle">50</text>
<line x1="399.35" y1="332.50" x2="399.35" y2="334.80" stroke="#555" stroke-width="0.8"/>
<text class="tk" x="399.65" y="342.30" text-anchor="middle">60</text>
<line x1="411.98" y1="332.50" x2="411.98" y2="334.80" stroke="#555" stroke-width="0.8"/>
<text class="tk" x="412.28" y="342.30" text-anchor="middle">70</text>
<line x1="424.60" y1="332.50" x2="424.60" y2="334.80" stroke="#555" stroke-width="0.8"/>
<text class="tk" x="424.90" y="342.30" text-anchor="middle">80</text>
<line x1="437.22" y1="332.50" x2="437.22" y2="334.80" stroke="#555" stroke-width="0.8"/>
<text class="tk" x="437.52" y="342.30" text-anchor="middle">90</text>
<line x1="449.84" y1="332.50" x2="449.84" y2="334.80" stroke="#555" stroke-width="0.8"/>
<text class="tk" x="450.14" y="342.30" text-anchor="middle">100</text>
<line x1="333.95" y1="332.50" x2="336.25" y2="332.50" stroke="#555" stroke-width="0.8"/>
<text class="tk" x="331.40" y="335.45" text-anchor="end">0</text>
<line x1="333.95" y1="305.73" x2="336.25" y2="305.73" stroke="#555" stroke-width="0.8"/>
<text class="tk" x="331.40" y="308.68" text-anchor="end">20</text>
<line x1="333.95" y1="278.96" x2="336.25" y2="278.96" stroke="#555" stroke-width="0.8"/>
<text class="tk" x="331.40" y="281.91" text-anchor="end">40</text>
<line x1="333.95" y1="252.18" x2="336.25" y2="252.18" stroke="#555" stroke-width="0.8"/>
<text class="tk" x="331.40" y="255.13" text-anchor="end">60</text>
<line x1="333.95" y1="225.41" x2="336.25" y2="225.41" stroke="#555" stroke-width="0.8"/>
<text class="tk" x="331.40" y="228.36" text-anchor="end">80</text>
<line x1="333.95" y1="198.64" x2="336.25" y2="198.64" stroke="#555" stroke-width="0.8"/>
<text class="tk" x="331.40" y="201.59" text-anchor="end">100</text>
<text class="tt" x="372.52" y="193.00" textLength="11.05" lengthAdjust="spacingAndGlyphs">VE</text>
<text class="tt" x="390.07" y="193.00" text-anchor="middle" textLength="5.1" lengthAdjust="spacingAndGlyphs">=</text>
<text class="tt" x="396.18" y="193.00" textLength="18.60" lengthAdjust="spacingAndGlyphs">80%</text>
<text class="lt" x="320.05" y="187.10">H</text>
<clipPath id="cI"><rect x="491.15" y="197.30" width="114.85" height="135.20"/></clipPath>
<g clip-path="url(#cI)">
<polygon points="491.15,267.84 503.77,233.58 516.39,215.24 529.01,198.64 541.63,198.64 554.25,198.64 566.88,198.64 579.50,198.64 592.12,198.64 604.74,198.64 604.74,198.64 592.12,198.64 579.50,198.64 566.88,198.64 554.25,198.64 541.63,199.71 529.01,232.91 516.39,221.26 503.77,237.46 491.15,269.99" fill="#1f77b4" fill-opacity="0.24"/>
<polygon points="491.15,299.97 503.77,270.25 516.39,246.16 529.01,222.33 541.63,199.31 554.25,198.64 566.88,198.64 579.50,198.64 592.12,198.64 604.74,198.64 604.74,198.64 592.12,198.64 579.50,198.64 566.88,198.64 554.25,199.31 541.63,218.05 529.01,239.47 516.39,260.88 503.77,282.30 491.15,306.66" fill="rgb(205,233,182)" fill-opacity="0.75"/>
<polyline points="491.15,267.84 503.77,233.58 516.39,215.24 529.01,198.64 541.63,198.64 554.25,198.64 566.88,198.64 579.50,198.64 592.12,198.64 604.74,198.64" fill="none" stroke="#1f77b4" stroke-opacity="0.35" stroke-width="0.9"/>
<polyline points="491.15,269.99 503.77,237.46 516.39,221.26 529.01,232.91 541.63,199.71 554.25,198.64 566.88,198.64 579.50,198.64 592.12,198.64 604.74,198.64" fill="none" stroke="#1f77b4" stroke-opacity="0.35" stroke-width="0.9"/>
<polyline points="491.15,299.97 503.77,270.25 516.39,246.16 529.01,222.33 541.63,199.31 554.25,198.64 566.88,198.64 579.50,198.64 592.12,198.64 604.74,198.64" fill="none" stroke="#7fcf50" stroke-opacity="0.7" stroke-width="1"/>
<polyline points="491.15,306.66 503.77,282.30 516.39,260.88 529.01,239.47 541.63,218.05 554.25,199.31 566.88,198.64 579.50,198.64 592.12,198.64 604.74,198.64" fill="none" stroke="#7fcf50" stroke-opacity="0.7" stroke-width="1"/>
<polyline points="491.15,268.92 503.77,235.18 516.39,218.05 529.01,203.06 541.63,198.64 554.25,198.64 566.88,198.64 579.50,198.64 592.12,198.64 604.74,198.64" fill="none" stroke="#1f77b4" stroke-width="1.5" stroke-linejoin="round"/>
<polyline points="491.15,303.32 503.77,278.29 516.39,254.19 529.01,230.77 541.63,207.47 554.25,198.64 566.88,198.64 579.50,198.64 592.12,198.64 604.74,198.64" fill="none" stroke="#2ca02c" stroke-width="1.5" stroke-linejoin="round"/>
</g>
<rect x="491.15" y="197.30" width="114.85" height="135.20" fill="none" stroke="#7a7a7a" stroke-width="1.1"/>
<line x1="491.15" y1="332.50" x2="491.15" y2="334.80" stroke="#555" stroke-width="0.8"/>
<text class="tk" x="491.45" y="342.30" text-anchor="middle">10</text>
<line x1="503.77" y1="332.50" x2="503.77" y2="334.80" stroke="#555" stroke-width="0.8"/>
<text class="tk" x="504.07" y="342.30" text-anchor="middle">20</text>
<line x1="516.39" y1="332.50" x2="516.39" y2="334.80" stroke="#555" stroke-width="0.8"/>
<text class="tk" x="516.69" y="342.30" text-anchor="middle">30</text>
<line x1="529.01" y1="332.50" x2="529.01" y2="334.80" stroke="#555" stroke-width="0.8"/>
<text class="tk" x="529.31" y="342.30" text-anchor="middle">40</text>
<line x1="541.63" y1="332.50" x2="541.63" y2="334.80" stroke="#555" stroke-width="0.8"/>
<text class="tk" x="541.93" y="342.30" text-anchor="middle">50</text>
<line x1="554.25" y1="332.50" x2="554.25" y2="334.80" stroke="#555" stroke-width="0.8"/>
<text class="tk" x="554.55" y="342.30" text-anchor="middle">60</text>
<line x1="566.88" y1="332.50" x2="566.88" y2="334.80" stroke="#555" stroke-width="0.8"/>
<text class="tk" x="567.18" y="342.30" text-anchor="middle">70</text>
<line x1="579.50" y1="332.50" x2="579.50" y2="334.80" stroke="#555" stroke-width="0.8"/>
<text class="tk" x="579.80" y="342.30" text-anchor="middle">80</text>
<line x1="592.12" y1="332.50" x2="592.12" y2="334.80" stroke="#555" stroke-width="0.8"/>
<text class="tk" x="592.42" y="342.30" text-anchor="middle">90</text>
<line x1="604.74" y1="332.50" x2="604.74" y2="334.80" stroke="#555" stroke-width="0.8"/>
<text class="tk" x="605.04" y="342.30" text-anchor="middle">100</text>
<line x1="488.85" y1="332.50" x2="491.15" y2="332.50" stroke="#555" stroke-width="0.8"/>
<text class="tk" x="486.30" y="335.45" text-anchor="end">0</text>
<line x1="488.85" y1="305.73" x2="491.15" y2="305.73" stroke="#555" stroke-width="0.8"/>
<text class="tk" x="486.30" y="308.68" text-anchor="end">20</text>
<line x1="488.85" y1="278.96" x2="491.15" y2="278.96" stroke="#555" stroke-width="0.8"/>
<text class="tk" x="486.30" y="281.91" text-anchor="end">40</text>
<line x1="488.85" y1="252.18" x2="491.15" y2="252.18" stroke="#555" stroke-width="0.8"/>
<text class="tk" x="486.30" y="255.13" text-anchor="end">60</text>
<line x1="488.85" y1="225.41" x2="491.15" y2="225.41" stroke="#555" stroke-width="0.8"/>
<text class="tk" x="486.30" y="228.36" text-anchor="end">80</text>
<line x1="488.85" y1="198.64" x2="491.15" y2="198.64" stroke="#555" stroke-width="0.8"/>
<text class="tk" x="486.30" y="201.59" text-anchor="end">100</text>
<text class="tt" x="527.43" y="193.00" textLength="11.05" lengthAdjust="spacingAndGlyphs">VE</text>
<text class="tt" x="544.98" y="193.00" text-anchor="middle" textLength="5.1" lengthAdjust="spacingAndGlyphs">=</text>
<text class="tt" x="551.08" y="193.00" textLength="18.60" lengthAdjust="spacingAndGlyphs">90%</text>
<text class="lt" x="483.95" y="187.10">I</text>
<clipPath id="cJ"><rect x="646.05" y="197.30" width="114.85" height="135.20"/></clipPath>
<g clip-path="url(#cJ)">
<polygon points="646.05,260.88 658.67,223.54 671.29,205.20 683.91,198.64 696.53,198.64 709.15,198.64 721.78,198.64 734.40,198.64 747.02,198.64 759.64,198.64 759.64,198.64 747.02,198.64 734.40,198.64 721.78,198.64 709.15,198.64 696.53,199.31 683.91,200.78 671.29,208.95 658.67,226.75 646.05,262.49" fill="#1f77b4" fill-opacity="0.24"/>
<polygon points="646.05,297.16 658.67,263.56 671.29,228.49 683.91,205.20 696.53,198.64 709.15,198.64 721.78,198.64 734.40,198.64 747.02,198.64 759.64,198.64 759.64,198.64 747.02,198.64 734.40,198.64 721.78,198.64 709.15,199.31 696.53,206.27 683.91,229.43 671.29,254.86 658.67,278.96 646.05,303.45" fill="rgb(205,233,182)" fill-opacity="0.75"/>
<polyline points="646.05,260.88 658.67,223.54 671.29,205.20 683.91,198.64 696.53,198.64 709.15,198.64 721.78,198.64 734.40,198.64 747.02,198.64 759.64,198.64" fill="none" stroke="#1f77b4" stroke-opacity="0.35" stroke-width="0.9"/>
<polyline points="646.05,262.49 658.67,226.75 671.29,208.95 683.91,200.78 696.53,199.31 709.15,198.64 721.78,198.64 734.40,198.64 747.02,198.64 759.64,198.64" fill="none" stroke="#1f77b4" stroke-opacity="0.35" stroke-width="0.9"/>
<polyline points="646.05,297.16 658.67,263.56 671.29,228.49 683.91,205.20 696.53,198.64 709.15,198.64 721.78,198.64 734.40,198.64 747.02,198.64 759.64,198.64" fill="none" stroke="#7fcf50" stroke-opacity="0.7" stroke-width="1"/>
<polyline points="646.05,303.45 658.67,278.96 671.29,254.86 683.91,229.43 696.53,206.27 709.15,199.31 721.78,198.64 734.40,198.64 747.02,198.64 759.64,198.64" fill="none" stroke="#7fcf50" stroke-opacity="0.7" stroke-width="1"/>
<polyline points="646.05,261.69 658.67,225.14 671.29,206.80 683.91,199.31 696.53,198.64 709.15,198.64 721.78,198.64 734.40,198.64 747.02,198.64 759.64,198.64" fill="none" stroke="#1f77b4" stroke-width="1.5" stroke-linejoin="round"/>
<polyline points="646.05,300.51 658.67,271.73 671.29,242.14 683.91,217.38 696.53,199.31 709.15,198.64 721.78,198.64 734.40,198.64 747.02,198.64 759.64,198.64" fill="none" stroke="#2ca02c" stroke-width="1.5" stroke-linejoin="round"/>
</g>
<rect x="646.05" y="197.30" width="114.85" height="135.20" fill="none" stroke="#7a7a7a" stroke-width="1.1"/>
<line x1="646.05" y1="332.50" x2="646.05" y2="334.80" stroke="#555" stroke-width="0.8"/>
<text class="tk" x="646.35" y="342.30" text-anchor="middle">10</text>
<line x1="658.67" y1="332.50" x2="658.67" y2="334.80" stroke="#555" stroke-width="0.8"/>
<text class="tk" x="658.97" y="342.30" text-anchor="middle">20</text>
<line x1="671.29" y1="332.50" x2="671.29" y2="334.80" stroke="#555" stroke-width="0.8"/>
<text class="tk" x="671.59" y="342.30" text-anchor="middle">30</text>
<line x1="683.91" y1="332.50" x2="683.91" y2="334.80" stroke="#555" stroke-width="0.8"/>
<text class="tk" x="684.21" y="342.30" text-anchor="middle">40</text>
<line x1="696.53" y1="332.50" x2="696.53" y2="334.80" stroke="#555" stroke-width="0.8"/>
<text class="tk" x="696.83" y="342.30" text-anchor="middle">50</text>
<line x1="709.15" y1="332.50" x2="709.15" y2="334.80" stroke="#555" stroke-width="0.8"/>
<text class="tk" x="709.45" y="342.30" text-anchor="middle">60</text>
<line x1="721.78" y1="332.50" x2="721.78" y2="334.80" stroke="#555" stroke-width="0.8"/>
<text class="tk" x="722.08" y="342.30" text-anchor="middle">70</text>
<line x1="734.40" y1="332.50" x2="734.40" y2="334.80" stroke="#555" stroke-width="0.8"/>
<text class="tk" x="734.70" y="342.30" text-anchor="middle">80</text>
<line x1="747.02" y1="332.50" x2="747.02" y2="334.80" stroke="#555" stroke-width="0.8"/>
<text class="tk" x="747.32" y="342.30" text-anchor="middle">90</text>
<line x1="759.64" y1="332.50" x2="759.64" y2="334.80" stroke="#555" stroke-width="0.8"/>
<text class="tk" x="759.94" y="342.30" text-anchor="middle">100</text>
<line x1="643.75" y1="332.50" x2="646.05" y2="332.50" stroke="#555" stroke-width="0.8"/>
<text class="tk" x="641.20" y="335.45" text-anchor="end">0</text>
<line x1="643.75" y1="305.73" x2="646.05" y2="305.73" stroke="#555" stroke-width="0.8"/>
<text class="tk" x="641.20" y="308.68" text-anchor="end">20</text>
<line x1="643.75" y1="278.96" x2="646.05" y2="278.96" stroke="#555" stroke-width="0.8"/>
<text class="tk" x="641.20" y="281.91" text-anchor="end">40</text>
<line x1="643.75" y1="252.18" x2="646.05" y2="252.18" stroke="#555" stroke-width="0.8"/>
<text class="tk" x="641.20" y="255.13" text-anchor="end">60</text>
<line x1="643.75" y1="225.41" x2="646.05" y2="225.41" stroke="#555" stroke-width="0.8"/>
<text class="tk" x="641.20" y="228.36" text-anchor="end">80</text>
<line x1="643.75" y1="198.64" x2="646.05" y2="198.64" stroke="#555" stroke-width="0.8"/>
<text class="tk" x="641.20" y="201.59" text-anchor="end">100</text>
<text class="tt" x="679.18" y="193.00" textLength="11.05" lengthAdjust="spacingAndGlyphs">VE</text>
<text class="tt" x="696.73" y="193.00" text-anchor="middle" textLength="5.1" lengthAdjust="spacingAndGlyphs">=</text>
<text class="tt" x="702.83" y="193.00" textLength="24.90" lengthAdjust="spacingAndGlyphs">100%</text>
<text class="lt" x="638.85" y="187.10">J</text>
<text transform="translate(5.2,82.17) rotate(-90)" class="lb" text-anchor="middle" textLength="124" lengthAdjust="spacingAndGlyphs">Proportion of Deaths averted (%)</text>
<text transform="translate(5.2,264.90) rotate(-90)" class="lb" text-anchor="middle" textLength="124" lengthAdjust="spacingAndGlyphs">Proportion of Deaths averted (%)</text>
<text class="lb" x="83.88" y="351.9" text-anchor="middle" textLength="79.5" lengthAdjust="spacingAndGlyphs">Vaccination coverage</text>
<text class="lb" x="83.88" y="358.8" text-anchor="middle" textLength="84.5" lengthAdjust="spacingAndGlyphs">(% of total population)</text>
<text class="lb" x="238.77" y="351.9" text-anchor="middle" textLength="79.5" lengthAdjust="spacingAndGlyphs">Vaccination coverage</text>
<text class="lb" x="238.77" y="358.8" text-anchor="middle" textLength="84.5" lengthAdjust="spacingAndGlyphs">(% of total population)</text>
<text class="lb" x="393.68" y="351.9" text-anchor="middle" textLength="79.5" lengthAdjust="spacingAndGlyphs">Vaccination coverage</text>
<text class="lb" x="393.68" y="358.8" text-anchor="middle" textLength="84.5" lengthAdjust="spacingAndGlyphs">(% of total population)</text>
<text class="lb" x="548.58" y="351.9" text-anchor="middle" textLength="79.5" lengthAdjust="spacingAndGlyphs">Vaccination coverage</text>
<text class="lb" x="548.58" y="358.8" text-anchor="middle" textLength="84.5" lengthAdjust="spacingAndGlyphs">(% of total population)</text>
<text class="lb" x="703.48" y="351.9" text-anchor="middle" textLength="79.5" lengthAdjust="spacingAndGlyphs">Vaccination coverage</text>
<text class="lb" x="703.48" y="358.8" text-anchor="middle" textLength="84.5" lengthAdjust="spacingAndGlyphs">(% of total population)</text>
<rect x="52.3" y="18" width="85.5" height="21.3" rx="1.5" fill="#fff" fill-opacity="0.8" stroke="#ddd" stroke-width="0.8"/>
<line x1="54.5" y1="23.2" x2="69.5" y2="23.2" stroke="#1f77b4" stroke-width="1.5"/>
<line x1="54.5" y1="33" x2="69.5" y2="33" stroke="#4cb04c" stroke-width="1.5"/>
<text x="74" y="25.9" class="lg" textLength="60.5" lengthAdjust="spacingAndGlyphs">Optimal allocation</text>
<text x="74" y="35.5" class="lg" textLength="60.5" lengthAdjust="spacingAndGlyphs">Pro-rata allocation</text>
</svg></body></html>
